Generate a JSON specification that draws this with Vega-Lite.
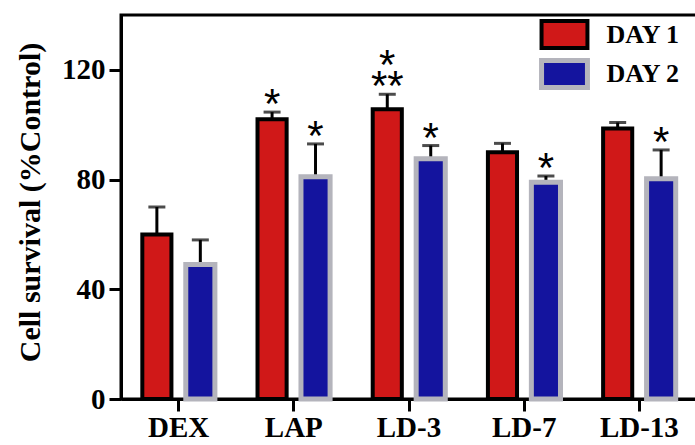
{
  "$schema": "https://vega.github.io/schema/vega-lite/v6.json",
  "autosize": "none",
  "padding": {"left": 121, "top": 15, "right": 0, "bottom": 46},
  "width": 576,
  "height": 384,
  "background": "white",
  "config": {
    "view": {"stroke": "black", "strokeWidth": 3},
    "axis": {
      "labelFont": "Liberation Serif", "labelFontWeight": "bold", "labelFontSize": 29, "labelColor": "black",
      "titleFont": "Liberation Serif", "titleFontWeight": "bold", "titleFontSize": 30, "titleColor": "black",
      "domainColor": "black", "domainWidth": 3, "tickColor": "black", "tickWidth": 3, "tickSize": 12, "grid": false
    }
  },
  "data": {"values": [
    {"drug": "DEX", "day": "DAY 1", "value": 60, "upper": 70, "sig": "", "sig2": ""},
    {"drug": "DEX", "day": "DAY 2", "value": 49, "upper": 58, "sig": "", "sig2": ""},
    {"drug": "LAP", "day": "DAY 1", "value": 102, "upper": 104.6, "sig": "*", "sig2": ""},
    {"drug": "LAP", "day": "DAY 2", "value": 81, "upper": 93, "sig": "*", "sig2": ""},
    {"drug": "LD-3", "day": "DAY 1", "value": 105.6, "upper": 111.1, "sig": "**", "sig2": "*"},
    {"drug": "LD-3", "day": "DAY 2", "value": 87.6, "upper": 92.4, "sig": "*", "sig2": ""},
    {"drug": "LD-7", "day": "DAY 1", "value": 90, "upper": 93.2, "sig": "", "sig2": ""},
    {"drug": "LD-7", "day": "DAY 2", "value": 79, "upper": 81.3, "sig": "*", "sig2": ""},
    {"drug": "LD-13", "day": "DAY 1", "value": 98.6, "upper": 100.8, "sig": "", "sig2": ""},
    {"drug": "LD-13", "day": "DAY 2", "value": 80.3, "upper": 90.8, "sig": "*", "sig2": ""}
  ]},
  "encoding": {
    "x": {
      "field": "drug", "type": "nominal", "sort": null,
      "scale": {"paddingInner": 0.37, "paddingOuter": 0.185},
      "axis": {"title": null, "labelAngle": 0, "labelPadding": 2}
    },
    "xOffset": {"field": "day", "type": "nominal", "scale": {"paddingInner": 0.33, "paddingOuter": 0}}
  },
  "layer": [
    {
      "mark": {"type": "rule", "color": "black", "strokeWidth": 3},
      "encoding": {
        "y": {"field": "value", "type": "quantitative"},
        "y2": {"field": "upper"}
      }
    },
    {
      "mark": {"type": "tick", "color": "black", "thickness": 3, "size": 17, "orient": "horizontal"},
      "encoding": {
        "y": {"field": "upper", "type": "quantitative"}
      }
    },
    {
      "mark": {"type": "bar"},
      "encoding": {
        "y": {
          "field": "value", "type": "quantitative",
          "scale": {"domain": [0, 140], "nice": false, "zero": true},
          "axis": {"values": [0, 40, 80, 120], "title": "Cell survival (%Control)", "labelPadding": 4,
                   "titleX": -91, "titleY": 187, "titleAngle": -90, "titleAlign": "center", "titleBaseline": "middle"}
        },
        "fill": {
          "field": "day", "type": "nominal",
          "scale": {"domain": ["DAY 1", "DAY 2"], "range": ["#d01818", "#14149e"]},
          "legend": {
            "title": null, "orient": "none", "legendX": 427.5, "legendY": 4, "padding": 0,
            "symbolType": "M-1.7,-1H1.7V1H-1.7Z", "symbolSize": 729, "symbolStrokeWidth": 4, "symbolOpacity": 1,
            "labelFont": "Liberation Serif", "labelFontWeight": "bold", "labelFontSize": 26, "labelColor": "black",
            "labelOffset": 26, "rowPadding": -6
          }
        },
        "stroke": {
          "field": "day", "type": "nominal",
          "scale": {"domain": ["DAY 1", "DAY 2"], "range": ["#000000", "#b4b4bc"]}
        },
        "strokeWidth": {
          "field": "day", "type": "nominal",
          "scale": {"domain": ["DAY 1", "DAY 2"], "range": [4, 5]},
          "legend": null
        }
      }
    },
    {
      "mark": {"type": "text", "font": "Liberation Sans", "fontSize": 42, "color": "black", "baseline": "alphabetic", "dy": 6},
      "encoding": {
        "y": {"field": "upper", "type": "quantitative"},
        "text": {"field": "sig"}
      }
    },
    {
      "mark": {"type": "text", "font": "Liberation Sans", "fontSize": 42, "color": "black", "baseline": "alphabetic", "dy": -15},
      "encoding": {
        "y": {"field": "upper", "type": "quantitative"},
        "text": {"field": "sig2"}
      }
    }
  ]
}
